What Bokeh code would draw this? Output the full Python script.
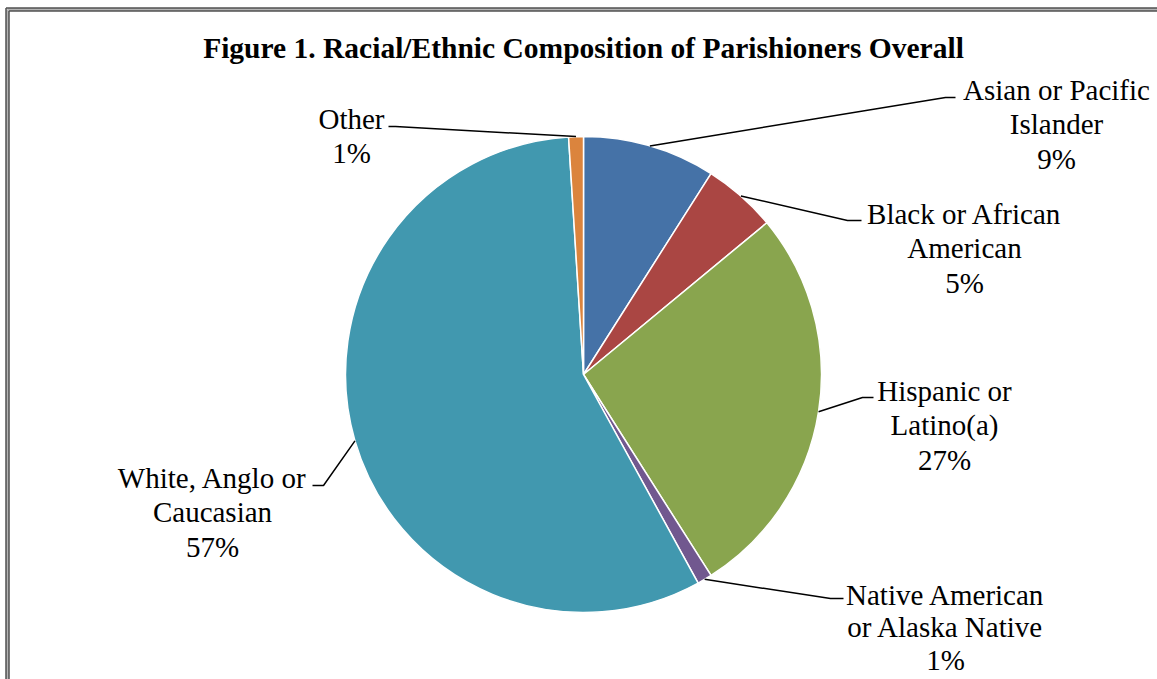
import math
from bokeh.plotting import figure
from bokeh.models import Range1d, ColumnDataSource
from bokeh.embed import file_html
from bokeh.resources import INLINE
from bokeh.core.properties import value

# ---------------- data ----------------
title_text = "Figure 1. Racial/Ethnic Composition of Parishioners Overall"
categories = ["Asian or Pacific Islander", "Black or African American",
              "Hispanic or Latino(a)", "Native American or Alaska Native",
              "White, Anglo or Caucasian", "Other"]
label_lines = [["Asian or Pacific", "Islander"], ["Black or African", "American"],
               ["Hispanic or", "Latino(a)"], ["Native American", "or Alaska Native"],
               ["White, Anglo or", "Caucasian"], ["Other"]]
shares = [9, 5, 27, 1, 57, 1]
colors = ["#4572A7", "#AA4643", "#89A54E", "#71588F", "#4198AF", "#DB843D"]

# ---------------- layout (reference pixel coordinates) ----------------
W, H = 1157, 679
def Y(ry):
    return H - ry

CX, CY, R = 583, 374, 238
# (text centre x, first line centre y, line gap, elbow x, elbow y, end x)
label_layout = [
    (1056, 89, 34.5, 945, 97, 955),
    (964, 213, 34.5, 847, 220, 861),
    (944, 390, 34.5, 862, 397, 873),
    (945, 594, 32.5, 830, 598, 843),
    (212, 477, 34.5, 323, 485, 312),
    (351, 118, 34.5, 395, 126, 388),
]
FONT = value("Liberation Serif")

p = figure(width=W, height=H, x_range=Range1d(0, W), y_range=Range1d(0, H),
           output_backend="svg", toolbar_location=None, min_border=0)
p.axis.visible = False
p.grid.visible = False
p.outline_line_color = None
p.background_fill_color = "white"
p.border_fill_color = "white"

# frame border (double line)
p.line([7, W], [Y(9), Y(9)], line_color="#B4B4B4", line_width=3)
p.line([7, 7], [Y(9), 0], line_color="#B4B4B4", line_width=3)
p.line([5.5, W], [Y(7.5), Y(7.5)], line_color="#505050", line_width=1.5)
p.line([8.5, W], [Y(10.5), Y(10.5)], line_color="#505050", line_width=1.5)
p.line([5.5, 5.5], [Y(7.5), 0], line_color="#505050", line_width=1.5)
p.line([8.5, 8.5], [Y(10.5), 0], line_color="#505050", line_width=1.5)

# pie
total = float(sum(shares))
starts, ends, mids = [], [], []
cum = 0.0
for s in shares:
    a0 = cum / total
    cum += s
    a1 = cum / total
    starts.append(math.pi / 2 - a1 * 2 * math.pi)
    ends.append(math.pi / 2 - a0 * 2 * math.pi)
    mids.append((a0 + a1) / 2 * 2 * math.pi)

src = ColumnDataSource(dict(start=starts, end=ends, color=colors, cat=categories, share=shares))
p.wedge(x=CX, y=Y(CY), radius=R, start_angle="start", end_angle="end",
        direction="anticlock", fill_color="color", line_color="white", line_width=1.5,
        source=src)

# title
p.text(x=[CX], y=[Y(47)], text=[title_text], text_font=FONT, text_font_size="29.5px",
       text_font_style="bold", text_align="center", text_baseline="middle", text_color="black")

# labels and leader lines
tx, ty, tt = [], [], []
for i, lines in enumerate(label_lines):
    lx, ly, gap, ex, ey, endx = label_layout[i]
    allines = lines + ["%d%%" % shares[i]]
    for j, t in enumerate(allines):
        tx.append(lx)
        ty.append(Y(ly + j * gap))
        tt.append(t)
    sx = CX + R * math.sin(mids[i])
    sy = CY - R * math.cos(mids[i])
    p.line([sx, ex, endx], [Y(sy), Y(ey), Y(ey)], line_color="black", line_width=1.5)

p.text(x=tx, y=ty, text=tt, text_font=FONT, text_font_size="29px",
       text_align="center", text_baseline="middle", text_color="black")

open("out.html", "w").write(file_html(p, INLINE))
